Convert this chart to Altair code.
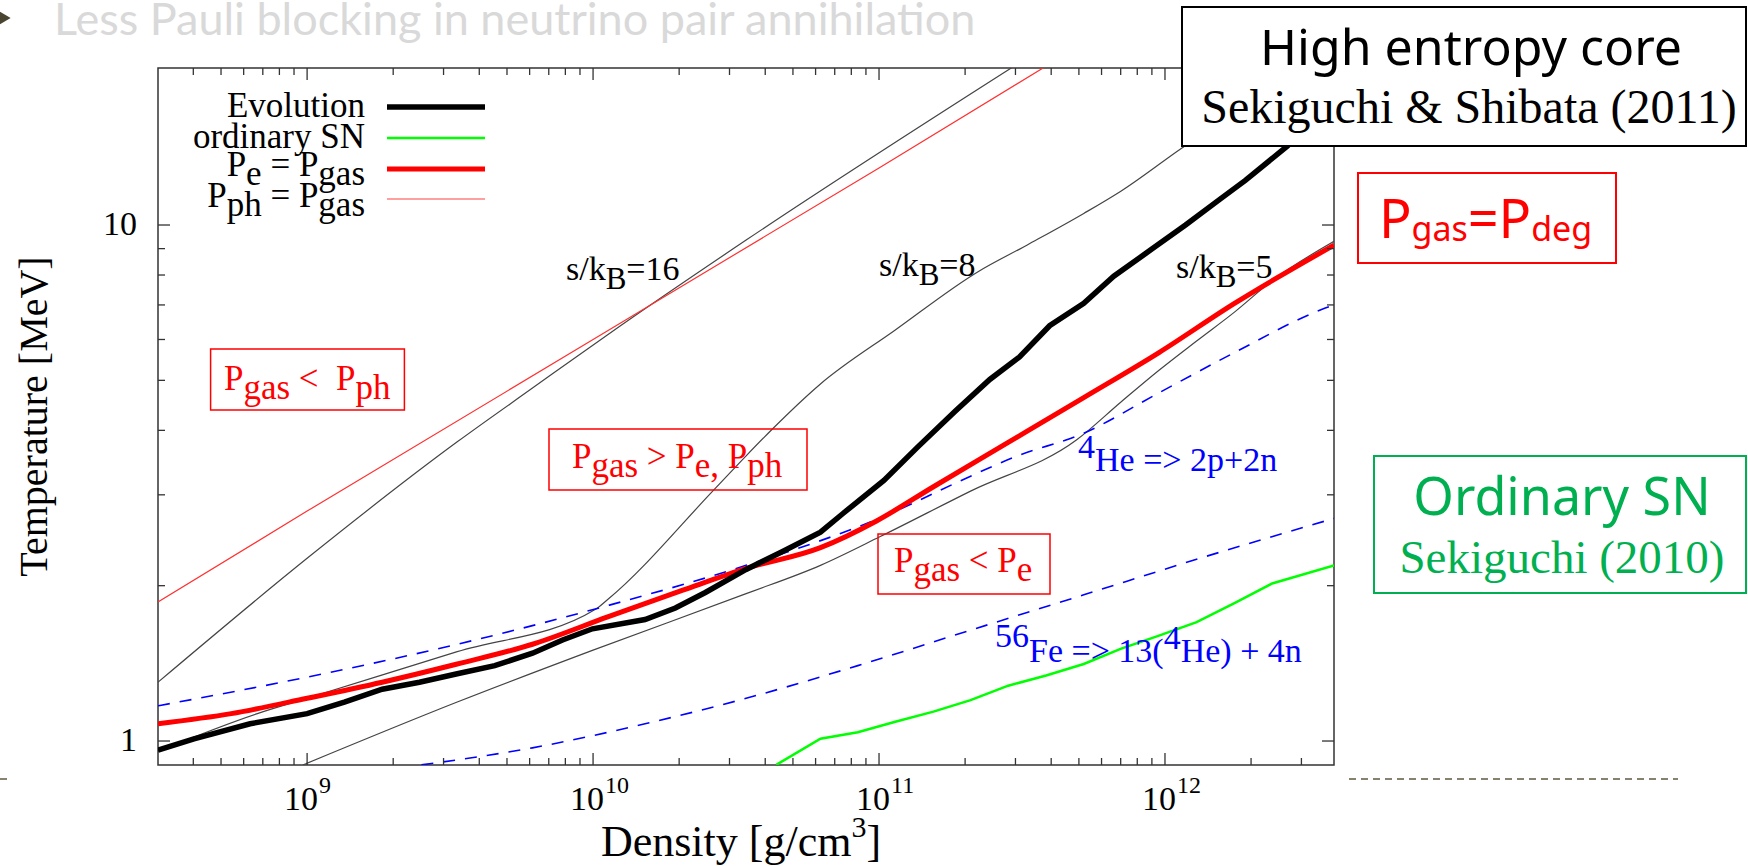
import altair as alt
import pandas as pd

# ---------------- series: density [g/cm^3] , temperature [MeV] -------------
evo_rho = [3.01e8, 4.02e8, 6.32e8, 1.0e9, 1.35e9, 1.83e9, 2.47e9, 3.35e9, 4.53e9, 6.14e9, 7.82e9, 9.95e9,
           1.52e10, 1.94e10, 2.47e10, 3.43e10, 4.6e10, 6.24e10, 7.48e10, 1.04e11, 1.37e11, 1.85e11,
           2.44e11, 3.1e11, 3.95e11, 5.2e11, 6.62e11, 8.97e11, 1.18e12, 1.55e12, 1.91e12, 2.67e12, 3.55e12]
evo_T = [0.96, 1.01, 1.08, 1.13, 1.19, 1.26, 1.30, 1.35, 1.40, 1.48, 1.57, 1.65,
         1.72, 1.81, 1.94, 2.15, 2.33, 2.54, 2.76, 3.20, 3.72, 4.36,
         5.02, 5.55, 6.38, 7.05, 7.96, 8.97, 10.0, 11.2, 12.2, 14.2, 16.5]

pe_rho = [3.01e8, 5.43e8, 1.0e9, 1.83e9, 3.35e9, 6.14e9, 1.125e10, 2.06e10, 3.43e10, 6.24e10, 9.8e10,
          1.55e11, 2.83e11, 5.2e11, 9.53e11, 1.75e12, 3.9e12]
pe_T = [1.08, 1.13, 1.21, 1.30, 1.41, 1.54, 1.74, 1.96, 2.16, 2.37, 2.67, 3.11, 3.79, 4.63, 5.66, 7.05, 9.14]

pph_rho = [3.01e8, 1.0e9, 1.0e10, 1.0e11, 4.0e11]
pph_T = [1.86, 2.79, 6.0, 12.9, 20.6]

s16_rho = [3.01e8, 1.0e9, 3.35e9, 6.14e9, 1.125e10, 3.43e10, 2.92e11]
s16_T = [1.30, 2.26, 3.80, 4.83, 6.13, 9.35, 20.2]

s8_rho = [3.01e8, 6.7e8, 1.0e9, 3.35e9, 1.02e10, 1.125e10, 2.65e10, 3.43e10, 4.23e10, 6.24e10, 1.14e11,
          2.22e11, 3.3e11, 5.2e11, 7.03e11, 1.14e12, 3.16e12]
s8_T = [0.955, 1.13, 1.21, 1.49, 1.80, 1.88, 3.07, 3.57, 4.02, 4.92, 6.26,
        8.12, 9.15, 10.53, 11.64, 14.07, 20.3]

s5_rho = [9.68e8, 3.35e9, 1.0e10, 3.43e10, 6.24e10, 1.01e11, 2.09e11, 4.9e11, 7.05e11, 9.53e11,
          1.29e12, 1.75e12, 2.37e12, 3.9e12]
s5_T = [0.899, 1.19, 1.50, 1.93, 2.19, 2.49, 3.05, 3.83, 4.55, 5.23, 5.96, 6.78, 7.80, 9.3]

he_rho = [3.01e8, 1.0e9, 3.35e9, 1.125e10, 3.43e10, 1.08e11, 1.85e11, 3.01e11, 5.2e11, 9.53e11,
          1.75e12, 3.51e12, 3.9e12]
he_T = [1.17, 1.33, 1.54, 1.83, 2.19, 2.75, 3.16, 3.56, 3.95, 4.73, 5.66, 6.85, 7.0]

fe_rho = [2.51e9, 6.14e9, 1.52e10, 3.43e10, 8.43e10, 2.09e11, 5.2e11, 1.29e12, 3.9e12]
fe_T = [0.899, 0.97, 1.08, 1.21, 1.40, 1.64, 1.92, 2.25, 2.70]

sn_rho = [4.37e10, 6.24e10, 8.43e10, 1.14e11, 1.55e11, 2.09e11, 2.83e11, 3.84e11, 5.2e11, 7.03e11,
          9.53e11, 1.29e12, 1.75e12, 2.37e12, 3.9e12]
sn_T = [0.899, 1.01, 1.04, 1.09, 1.14, 1.20, 1.28, 1.34, 1.41, 1.51, 1.60, 1.70, 1.85, 2.02, 2.19]

# ---------------- axis ticks ----------------
x_major = [1e9, 1e10, 1e11, 1e12]
x_exp = ["9", "10", "11", "12"]
x_minor = [m * 10.0 ** e for e in range(8, 13) for m in range(2, 10)]
x_minor = [v for v in x_minor if 3.05e8 < v < 3.88e12]
y_major = [1, 10]
y_major_lbl = ["1", "10"]
y_minor = [2, 3, 4, 5, 6, 7, 8, 9]

# ---------------- layout / style ----------------
W, H = 1176, 697
PAD = {"left": 158, "top": 68, "right": 414, "bottom": 101}
SERIF = "Liberation Serif"
SANS = "Noto Sans"
FRAME = "#333333"
RED = "#ff0000"
BLUE = "#0000ff"
GREEN = "#00b050"

xs = alt.Scale(type="log", domain=[3.01e8, 3.9e12], nice=False)
ys = alt.Scale(type="log", domain=[0.8985, 20.15], nice=False)

TIMES = {'P': .556, 'g': .5, 'a': .444, 's': .389, '<': .564, '>': .564, 'e': .444, 'p': .5, 'h': .5,
         ',': .25, ' ': .25, '=': .564, '4': .5, 'H': .722, '2': .5, '+': .564, 'n': .5, '5': .5,
         '6': .5, 'F': .556, '1': .5, '3': .5, '(': .333, ')': .333, '/': .278, 'k': .5, 'B': .667,
         '8': .5, '0': .5, 'E': .611, 'v': .5, 'o': .5, 'l': .278, 'u': .5, 't': .278, 'i': .278,
         'r': .333, 'd': .5, 'y': .5, 'S': .556, 'N': .722, 'c': .444, 'm': .778, '[': .333, ']': .333,
         'D': .722, '&': .778, 'b': .5}
NOTO = {'P': .603, 'g': .612, 'a': .561, 's': .479, '=': .572, 'd': .613, 'e': .561, ' ': .26}


def compose(segs, x, y, table, align="left"):
    """Lay out text pieces (text, size, baseline shift, colour) one after another."""
    if len(segs) == 1 and align != "left":
        t, s, dy, col = segs[0]
        return [{"px": x, "py": y + dy, "text": t, "size": s, "color": col, "align": align}]
    widths = [sum(table.get(c, 0.5) for c in t) * s for t, s, dy, col in segs]
    total = sum(widths)
    cx = x - total if align == "right" else (x - total / 2 if align == "center" else x)
    rows = []
    for (t, s, dy, col), w in zip(segs, widths):
        lead = len(t) - len(t.lstrip(" "))
        rows.append({"px": cx + lead * table[" "] * s, "py": y + dy, "text": t.strip(" "),
                     "size": s, "color": col, "align": "left"})
        cx += w
    return rows


def curve(rho, T, color, width, dash=None, interp="monotone"):
    df = pd.DataFrame({"rho": rho, "T": T})
    kw = dict(color=color, strokeWidth=width, clip=True, interpolate=interp)
    if dash:
        kw["strokeDash"] = dash
    return alt.Chart(df).mark_line(**kw).encode(
        x=alt.X("rho:Q", scale=xs, axis=None),
        y=alt.Y("T:Q", scale=ys, axis=None),
    )


layers = [
    curve(s16_rho, s16_T, "#444444", 1.2),
    curve(s8_rho, s8_T, "#444444", 1.2),
    curve(s5_rho, s5_T, "#444444", 1.2),
    curve(pph_rho, pph_T, "#ff3030", 1.2, interp="linear"),
    curve(he_rho, he_T, BLUE, 1.6, dash=[12, 10]),
    curve(fe_rho, fe_T, BLUE, 1.6, dash=[12, 10]),
    curve(sn_rho, sn_T, "#00ff00", 2.5, interp="linear"),
    curve(pe_rho, pe_T, RED, 5),
    curve(evo_rho, evo_T, "black", 5.5, interp="linear"),
]

# ---------------- inward ticks on all four sides ----------------
dfx = pd.DataFrame({"v": x_major + x_minor, "L": [12] * len(x_major) + [7] * len(x_minor)})
dfx["b0"], dfx["b1"], dfx["t0"], dfx["t1"] = H, H - dfx["L"], 0, dfx["L"]
dfy = pd.DataFrame({"v": y_major + y_minor, "L": [12] * len(y_major) + [7] * len(y_minor)})
dfy["l0"], dfy["l1"], dfy["r0"], dfy["r1"] = 0, dfy["L"], W, W - dfy["L"]
for a, b in (("b0", "b1"), ("t0", "t1")):
    layers.append(alt.Chart(dfx).mark_rule(color=FRAME, strokeWidth=1.3).encode(
        x=alt.X("v:Q", scale=xs, axis=None), y=alt.Y(f"{a}:Q", scale=None), y2=f"{b}:Q"))
for a, b in (("l0", "l1"), ("r0", "r1")):
    layers.append(alt.Chart(dfy).mark_rule(color=FRAME, strokeWidth=1.3).encode(
        y=alt.Y("v:Q", scale=ys, axis=None), x=alt.X(f"{a}:Q", scale=None), x2=f"{b}:Q"))

# x tick labels 10^n
dfl = pd.DataFrame({"v": x_major, "exp": x_exp})
layers.append(alt.Chart(dfl).mark_text(font=SERIF, fontSize=34, align="right", baseline="alphabetic",
                                       dx=11, color="black").encode(
    x=alt.X("v:Q", scale=xs, axis=None), y=alt.value(H + 45), text=alt.value("10")))
layers.append(alt.Chart(dfl).mark_text(font=SERIF, fontSize=24, align="left", baseline="alphabetic",
                                       dx=12, color="black").encode(
    x=alt.X("v:Q", scale=xs, axis=None), y=alt.value(H + 28), text="exp:N"))

# y tick labels and y title
dfyl = pd.DataFrame({"v": y_major, "lbl": y_major_lbl})
layers.append(alt.Chart(dfyl).mark_text(font=SERIF, fontSize=34, align="right", baseline="middle",
                                        color="black").encode(
    y=alt.Y("v:Q", scale=ys, axis=None), x=alt.value(-21), text="lbl:N"))
layers.append(alt.Chart(pd.DataFrame({"t": ["Temperature [MeV]"]})).mark_text(
    font=SERIF, fontSize=40, angle=270, align="center", baseline="alphabetic", color="black").encode(
    x=alt.value(-111), y=alt.value(H / 2), text="t:N"))

# ---------------- boxes ----------------
inner_boxes = pd.DataFrame({"x0": [52.6, 391, 720], "x1": [246.4, 649, 892],
                            "y0": [281, 361, 466], "y1": [342, 422, 526]})
layers.append(alt.Chart(inner_boxes).mark_rect(fillOpacity=0, stroke=RED, strokeWidth=1.5).encode(
    x=alt.X("x0:Q", scale=None), x2="x1:Q", y=alt.Y("y0:Q", scale=None), y2="y1:Q"))

legend_lines = pd.DataFrame({"x0": [229] * 4, "x1": [327] * 4, "y": [39, 70, 101, 131],
                             "c": ["black", "#00ff00", RED, "#ff8080"], "w": [5.5, 2.5, 5, 1.6]})
layers.append(alt.Chart(legend_lines).mark_rule().encode(
    x=alt.X("x0:Q", scale=None), x2="x1:Q", y=alt.Y("y:Q", scale=None),
    color=alt.Color("c:N", scale=None), strokeWidth=alt.StrokeWidth("w:Q", scale=None)))

outer_boxes = pd.DataFrame({"x0": [1024, 1200, 1216], "x1": [1588, 1458, 1588],
                            "y0": [-61, 105, 388], "y1": [78, 195, 525], "c": ["black", RED, GREEN]})
layers.append(alt.Chart(outer_boxes).mark_rect(fill="white", strokeWidth=2).encode(
    x=alt.X("x0:Q", scale=None), x2="x1:Q", y=alt.Y("y0:Q", scale=None), y2="y1:Q",
    stroke=alt.Stroke("c:N", scale=None)))

# slide decorations
dash_df = pd.DataFrame({"x0": [-158, 1191], "x1": [-146, 1520], "y": [711, 711]})
layers.append(alt.Chart(dash_df).mark_rule(color="#5f5a40", strokeWidth=1.5, strokeDash=[7, 5]).encode(
    x=alt.X("x0:Q", scale=None), x2="x1:Q", y=alt.Y("y:Q", scale=None)))
layers.append(alt.Chart(pd.DataFrame({"a": [0]})).mark_point(
    shape="triangle-right", filled=True, size=170, color="#4a4530", opacity=1).encode(
    x=alt.value(-153), y=alt.value(-50)))

# ---------------- texts ----------------
K = "black"
serif_rows = []
serif_rows += compose([("Evolution", 35, 0, K)], 207, 49, TIMES, "right")
serif_rows += compose([("ordinary SN", 35, 0, K)], 207, 80, TIMES, "right")
serif_rows += compose([("P", 35, 0, K), ("e", 35, 9, K), (" = P", 35, 0, K), ("gas", 35, 9, K)],
                      207, 108, TIMES, "right")
serif_rows += compose([("P", 35, 0, K), ("ph", 35, 9, K), (" = P", 35, 0, K), ("gas", 35, 9, K)],
                      207, 139, TIMES, "right")
for x0, y0, val in [(408, 212, "16"), (721, 208, "8"), (1018, 210, "5")]:
    serif_rows += compose([("s/k", 34, 0, K), ("B", 31, 9, K), ("=" + val, 34, 0, K)], x0, y0, TIMES)
serif_rows += compose([("P", 35, 0, RED), ("gas", 35, 9, RED), (" <", 35, 0, RED), ("  P", 35, 0, RED),
                       ("ph", 35, 9, RED)], 66, 322, TIMES)
serif_rows += compose([("P", 35, 0, RED), ("gas", 35, 9, RED), (" >", 35, 0, RED), (" P", 35, 0, RED),
                       ("e", 35, 9, RED), (",", 35, 9, RED), (" P", 35, 0, RED), ("ph", 35, 9, RED)],
                      414, 400, TIMES)
serif_rows += compose([("P", 35, 0, RED), ("gas", 35, 9, RED), (" <", 35, 0, RED), (" P", 35, 0, RED),
                       ("e", 35, 9, RED)], 736, 504, TIMES)
serif_rows += compose([("4", 34, -13, BLUE), ("He => 2p+2n", 34, 0, BLUE)], 920, 403, TIMES)
serif_rows += compose([("56", 34, -15, BLUE), ("Fe => 13(", 34, 0, BLUE), ("4", 34, -13, BLUE),
                       ("He) + 4n", 34, 0, BLUE)], 837, 594, TIMES)
serif_rows += compose([("Density [g/cm", 44, 0, K), ("3", 30, -19, K), ("]", 44, 0, K)],
                      W / 2 - 5, 788, TIMES, "center")
serif_rows += compose([("Sekiguchi & Shibata (2011)", 48, 0, K)], 1311, 55, TIMES, "center")
serif_rows += compose([("Sekiguchi (2010)", 47, 0, GREEN)], 1404, 505, TIMES, "center")

sans_rows = []
sans_rows += compose([("High entropy core", 50, 0, K)], 1313, -3, NOTO, "center")
sans_rows += compose([("Ordinary SN", 52, 0, GREEN)], 1404, 447, NOTO, "center")
sans_rows += compose([("P", 54, 0, RED), ("gas", 34, 3, RED), ("=", 54, 0, RED), ("P", 54, 0, RED),
                      ("deg", 34, 3, RED)], 1221, 170, NOTO)

title_rows = compose([("Less Pauli blocking in neutrino pair annihilation", 45, 0, "#d9d9d9")],
                     -104, -33, NOTO)


def text_layers(rows, font):
    df = pd.DataFrame(rows)
    out = []
    for al, sub in df.groupby("align"):
        out.append(alt.Chart(sub).mark_text(font=font, align=al, baseline="alphabetic").encode(
            x=alt.X("px:Q", scale=None), y=alt.Y("py:Q", scale=None), text="text:N",
            size=alt.Size("size:Q", scale=None), color=alt.Color("color:N", scale=None)))
    return out


layers += text_layers(serif_rows, SERIF)
layers += text_layers(sans_rows, SANS)
layers += text_layers(title_rows, "Lato")

chart = alt.layer(*layers).properties(
    width=W, height=H, padding=PAD, background="white",
    autosize=alt.AutoSizeParams(type="none"),
).configure_view(stroke=FRAME, strokeWidth=1.5)

chart.save("out.html", embed_options={"renderer": "svg", "actions": False})
